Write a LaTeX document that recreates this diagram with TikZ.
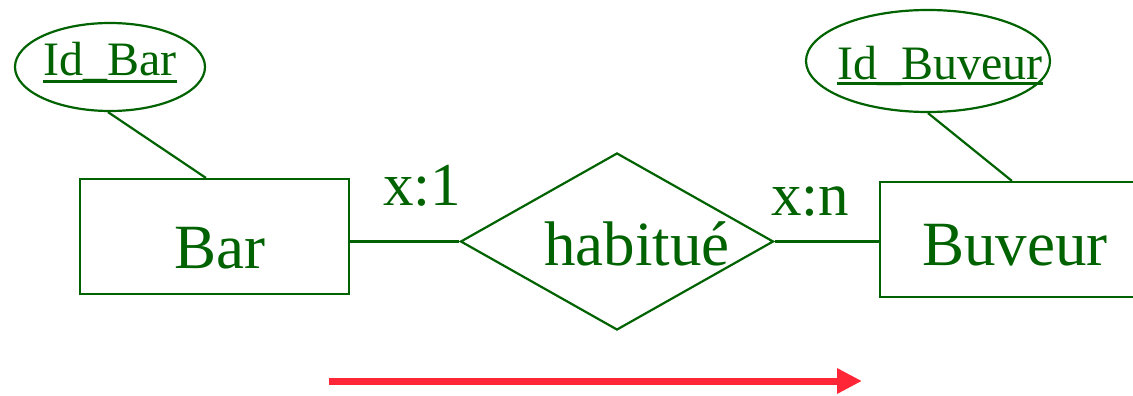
\documentclass[tikz,border=0pt]{standalone}
\usepackage{fontspec}
\setmainfont{Liberation Serif}
\usetikzlibrary{shapes.geometric,arrows.meta}
\definecolor{dg}{RGB}{0,98,0}
\definecolor{rd}{RGB}{255,38,56}
\begin{document}
\begin{tikzpicture}[x=1pt,y=-1pt,
  shp/.style={draw=dg,line width=2.2pt},
  ent/.style={shp,rectangle,inner sep=0pt},
  big/.style={text=dg,inner sep=0pt,anchor=base,font=\fontsize{63}{70}\selectfont},
  card/.style={text=dg,inner sep=0pt,anchor=base,font=\fontsize{61}{68}\selectfont},
  key/.style={text=dg,inner sep=0pt,anchor=base,font=\fontsize{48}{54}\selectfont},
  uline/.style={draw=dg,line width=3pt},
  lnk/.style={draw=dg,line width=2.2pt},
  redarrow/.style={draw=rd,line width=7pt,-{Triangle[length=25pt,width=24pt]}}]
\useasboundingbox (0,0) rectangle (1133,396);
\clip (0,0) rectangle (1133,396);
% entities
\node[ent,minimum width=269pt,minimum height=115pt] (bar) at (214.5,236.5) {};
\node[ent,minimum width=270pt,minimum height=115pt] (buv) at (1015,239.5) {};
\node[big] (bart) at (220,268) {Bar};
\node[big] (buvt) at (1015,265) {Buveur};
% relationship
\node[shp,diamond,inner sep=0pt,shape aspect=1.77,minimum width=313pt,minimum height=177pt] (rel) at (617,241.5) {};
\node[big] (relt) at (637,265) {habitué};
% cardinalities
\node[card] (c1) at (422,205) {x:1};
\node[card] (c2) at (810,215) {x:n};
% attributes
\node[shp,ellipse,inner sep=0pt,minimum width=190pt,minimum height=88pt] (e1) at (110,67) {};
\node[shp,ellipse,inner sep=0pt,minimum width=244pt,minimum height=102pt] (e2) at (928,61) {};
\node[key] (k1) at (110,75) {Id\_Bar};
\node[key] (k2) at (940,80) {Id\_Buveur};
\draw[uline] ([yshift=-7pt]k1.base west) -- ([yshift=-7pt]k1.base east);
\draw[uline] ([yshift=-4pt]k2.base west) -- ([yshift=-4pt]k2.base east);
% links
\draw[lnk] ([xshift=-2pt]e1.south) -- ([xshift=127pt]bar.north west);
\draw[lnk] (e2.south) -- ([xshift=133pt]buv.north west);
\draw[lnk] (bar.east |- rel.west) -- (rel.west);
\draw[lnk] (rel.east) -- (buv.west |- rel.east);
% red arrow
\coordinate (a1) at (329,381);
\coordinate (a2) at (862,381);
\draw[redarrow] (a1) -- (a2);
\end{tikzpicture}
\end{document}
